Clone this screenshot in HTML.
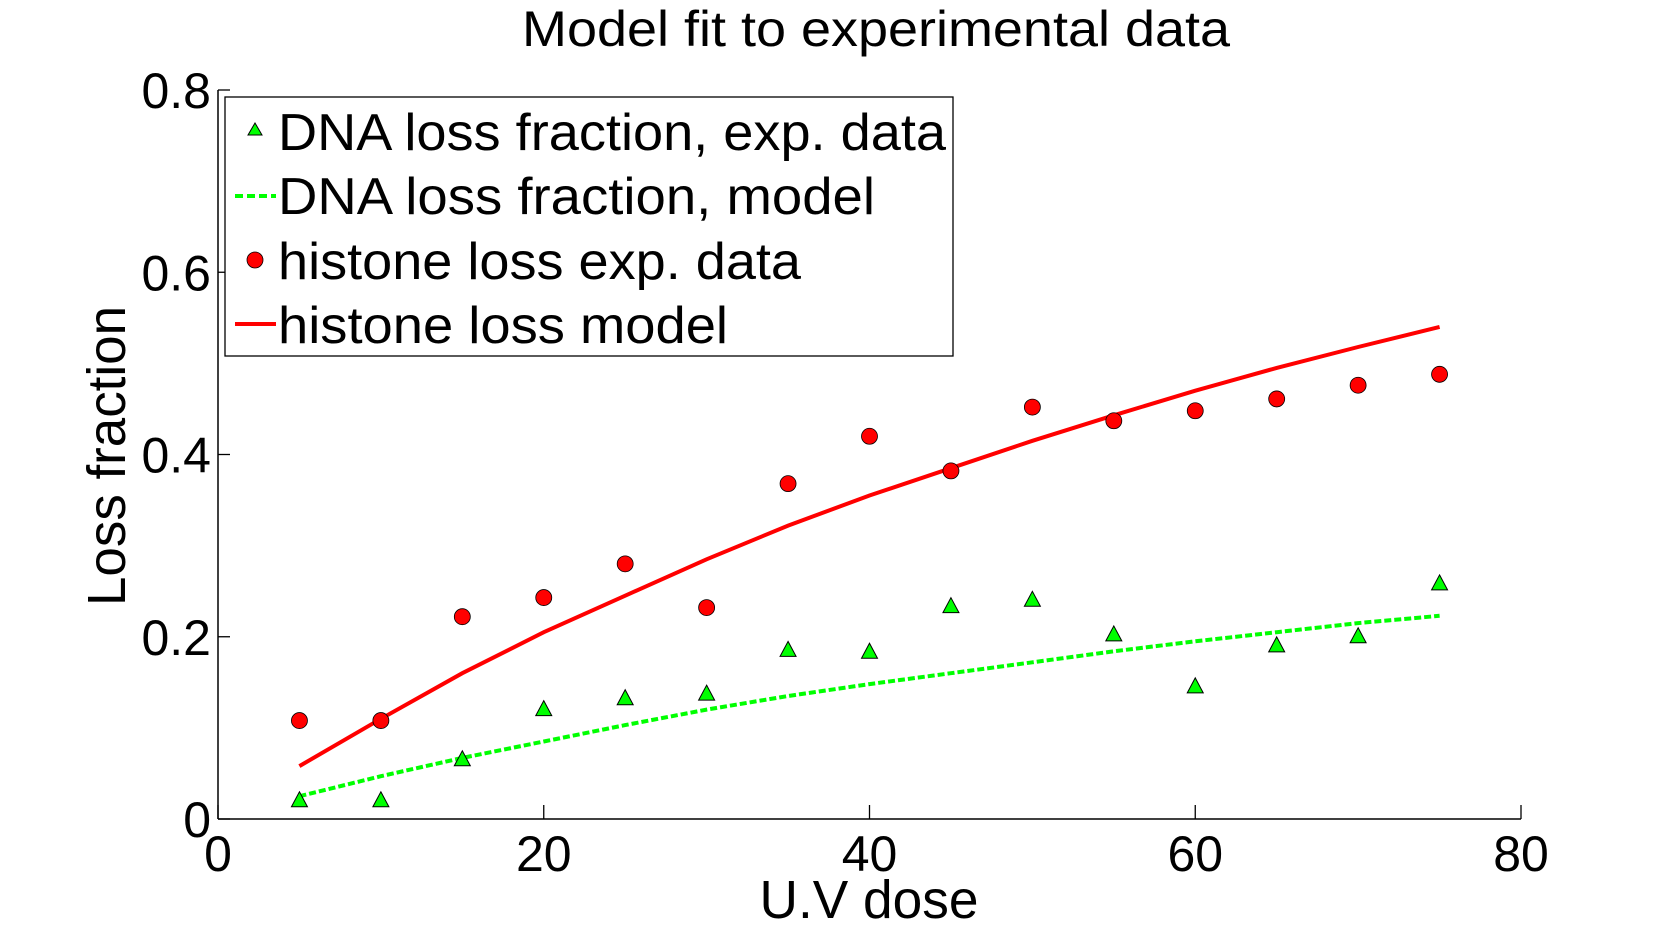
<!DOCTYPE html>
<html><head><meta charset="utf-8"><style>
html,body{margin:0;padding:0;background:#fff;}
svg{display:block;font-family:"Liberation Sans",Arial,sans-serif;}
</style></head><body>
<svg id="chart" width="1680" height="933" viewBox="0 0 1680 933" xmlns="http://www.w3.org/2000/svg">
<rect width="1680" height="933" fill="#fff"/>
<text x="876" y="46" font-size="50" text-anchor="middle" textLength="708" lengthAdjust="spacingAndGlyphs">Model fit to experimental data</text>
<g id="axes"></g>
<g id="marks"></g>
<text x="869" y="918" font-size="54" text-anchor="middle" textLength="219" lengthAdjust="spacingAndGlyphs">U.V dose</text>
<text transform="translate(125,456) rotate(-90)" font-size="54" text-anchor="middle" textLength="300" lengthAdjust="spacingAndGlyphs">Loss fraction</text>
<g>
<rect x="225" y="97" width="728" height="259" fill="#fff" stroke="#000" stroke-width="1.3"/>
<polygon points="255,123 262,135 248,135" fill="#00ff00" stroke="#000" stroke-width="1"/>
<text x="278" y="150" font-size="52" textLength="668" lengthAdjust="spacingAndGlyphs">DNA loss fraction, exp. data</text>
<line x1="235" y1="196" x2="276" y2="196" stroke="#00ff00" stroke-width="4" stroke-dasharray="8,4"/>
<text x="278" y="214" font-size="52" textLength="597" lengthAdjust="spacingAndGlyphs">DNA loss fraction, model</text>
<circle cx="255" cy="260" r="8" fill="#ff0000" stroke="#000" stroke-width="0.8"/>
<text x="278" y="279" font-size="52" textLength="523" lengthAdjust="spacingAndGlyphs">histone loss exp. data</text>
<line x1="235" y1="324" x2="276" y2="324" stroke="#ff0000" stroke-width="4"/>
<text x="278" y="343" font-size="52" textLength="450" lengthAdjust="spacingAndGlyphs">histone loss model</text>
</g>
</svg>
<script>
const doses = [5,10,15,20,25,30,35,40,45,50,55,60,65,70,75];
const histoneExp = [0.108,0.108,0.222,0.243,0.280,0.232,0.368,0.420,0.382,0.452,0.437,0.448,0.461,0.476,0.488];
const dnaExp = [0.020,0.020,0.065,0.120,0.132,0.137,0.185,0.183,0.233,0.240,0.202,0.145,0.190,0.200,0.258];
const histoneModel = [0.058,0.110,0.160,0.205,0.245,0.285,0.322,0.355,0.385,0.415,0.443,0.470,0.495,0.518,0.540];
const dnaModel = [0.025,0.047,0.067,0.085,0.103,0.120,0.135,0.148,0.160,0.172,0.184,0.195,0.205,0.215,0.223];
const xTicks = [0,20,40,60,80];
const yTicks = [0,0.2,0.4,0.6,0.8];
const yTickLabels = ["0","0.2","0.4","0.6","0.8"];

const NS="http://www.w3.org/2000/svg";
const X0=218,X1=1521,Y0=819,Y1=90;
function sx(v){return X0+(v-0)/(80-0)*(X1-X0);}
function sy(v){return Y0-(v-0)/(0.8-0)*(Y0-Y1);}
function mk(tag,attrs,parent){const e=document.createElementNS(NS,tag);for(const k in attrs)e.setAttribute(k,attrs[k]);parent.appendChild(e);return e;}
const axes=document.getElementById('axes');
const marks=document.getElementById('marks');
let e;
e=mk('line',{x1:X0,y1:Y0,x2:X1,y2:Y0,stroke:'#000','stroke-width':1.5},axes);


e=mk('line',{x1:X0,y1:Y0,x2:X0,y2:Y1,stroke:'#000','stroke-width':1.5},axes);


xTicks.forEach(t=>{
  const x=sx(t);
  e=mk('line',{x1:x,y1:Y0,x2:x,y2:Y0-14,stroke:'#000','stroke-width':1.3},axes);
  
  
  e=mk('text',{x:x,y:871,'font-size':50,'text-anchor':'middle'},axes);
  e.textContent=String(t);
  
  
});
yTicks.forEach((t,i)=>{
  const y=sy(t);
  e=mk('line',{x1:X0,y1:y,x2:X0+12,y2:y,stroke:'#000','stroke-width':1.3},axes);
  
  
  e=mk('text',{x:211,y:y+18,'font-size':50,'text-anchor':'end'},axes);
  e.textContent=yTickLabels[i];
  
  
});
function pathOf(vals){return vals.map((v,i)=>(i?'L':'M')+sx(doses[i]).toFixed(1)+','+sy(v).toFixed(1)).join(' ');}
e=mk('path',{d:pathOf(histoneModel),fill:'none',stroke:'#ff0000','stroke-width':4},marks);


e=mk('path',{d:pathOf(dnaModel),fill:'none',stroke:'#00ff00','stroke-width':4,'stroke-dasharray':'7,3'},marks);


histoneExp.forEach((v,i)=>{
  e=mk('ellipse',{cx:sx(doses[i]),cy:sy(v),rx:8,ry:8,fill:'#ff0000',stroke:'#000','stroke-width':0.8},marks);
  
  
});
dnaExp.forEach((v,i)=>{
  const x=sx(doses[i]),y=sy(v);
  e=mk('polygon',{points:`${x},${y-9} ${x+8},${y+6} ${x-8},${y+6}`,fill:'#00ff00',stroke:'#000','stroke-width':1},marks);
  
  
});
</script>
</body></html>
